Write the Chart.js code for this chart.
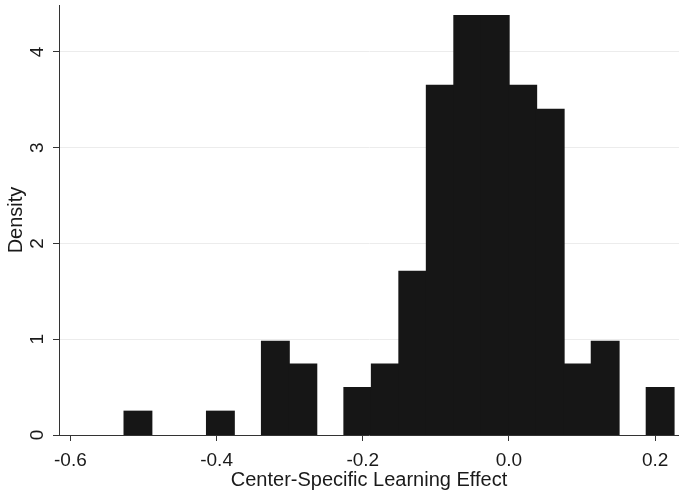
<!DOCTYPE html>
<html>
<head>
<meta charset="utf-8">
<script src="https://cdn.jsdelivr.net/npm/chart.js@4/dist/chart.umd.min.js"></script>
<style>
  html, body { margin: 0; padding: 0; background: #fff; }
  #wrap { width: 679px; height: 497px; position: relative; }
</style>
</head>
<body>
<div id="wrap"><canvas id="histChart"></canvas></div>
<script>
// histogram bins (centres) and their densities
const binCenters = [-0.5076, -0.4700, -0.4324, -0.3948, -0.3572, -0.3196, -0.2820, -0.2444,
                    -0.2068, -0.1692, -0.1316, -0.0940, -0.0564, -0.0188, 0.0188, 0.0564,
                    0.0940, 0.1316, 0.1692, 0.2068];
const densities = [0.247, 0, 0, 0.247, 0, 0.978, 0.738, 0,
                   0.494, 0.738, 1.709, 3.65, 4.377, 4.377, 3.65, 3.40,
                   0.738, 0.978, 0, 0.494];
const xTicks = [-0.6, -0.4, -0.2, 0.0, 0.2];
const yTicks = [0, 1, 2, 3, 4];

const font = "'Liberation Sans', Arial, Helvetica, sans-serif";

// empty bins are kept (so the bar width is one bin) but not drawn
let points = [];
for (let i = 0; i < binCenters.length; i++){
  points.push({x: binCenters[i], y: densities[i] === 0 ? null : densities[i]});
}

new Chart(document.getElementById('histChart'), {
  type: 'bar',
  data: {
    datasets: [{
      data: points,
      backgroundColor: '#161616',
      borderWidth: 0,
      inflateAmount: 0.7,
      barPercentage: 1,
      categoryPercentage: 1
    }]
  },
  options: {
    responsive: true,
    maintainAspectRatio: false,
    animation: false,
    layout: { padding: { top: 5, right: 0, left: 0, bottom: 0 } },
    plugins: { legend: { display: false }, tooltip: { enabled: false } },
    scales: {
      x: {
        type: 'linear',
        offset: false,
        min: -0.6156,
        max: 0.2326,
        afterBuildTicks: (scale) => { scale.ticks = xTicks.map(v => ({value: v})); },
        afterFit: (scale) => { scale.height = 62; scale.paddingLeft = 0; scale.paddingRight = 0; },
        grid: { offset: false, drawOnChartArea: false, tickLength: 6, tickColor: '#333', tickWidth: 1 },
        border: { color: '#333', width: 1, z: 1 },
        ticks: {
          padding: 8,
          color: '#1a1a1a',
          font: { family: font, size: 19 },
          maxRotation: 0,
          callback: (v) => Number(v).toFixed(1)
        },
        title: {
          display: true,
          text: 'Center-Specific Learning Effect',
          color: '#1a1a1a',
          font: { family: font, size: 20 },
          padding: { top: 0, bottom: 5 }
        }
      },
      y: {
        min: 0,
        max: 4.49,
        afterBuildTicks: (scale) => { scale.ticks = yTicks.map(v => ({value: v})); },
        afterFit: (scale) => { scale.width = 59; scale.paddingTop = 0; scale.paddingBottom = 0; },
        grid: { color: '#ececec', lineWidth: 1, tickLength: 6, tickColor: '#333' },
        border: { color: '#333', width: 1 },
        ticks: {
          padding: 10,
          minRotation: 90,
          maxRotation: 90,
          crossAlign: 'center',
          color: '#1a1a1a',
          font: { family: font, size: 19 }
        },
        title: {
          display: true,
          text: 'Density',
          color: '#1a1a1a',
          font: { family: font, size: 20 },
          padding: { top: 4, bottom: 0 }
        }
      }
    }
  }
});
</script>
</body>
</html>
